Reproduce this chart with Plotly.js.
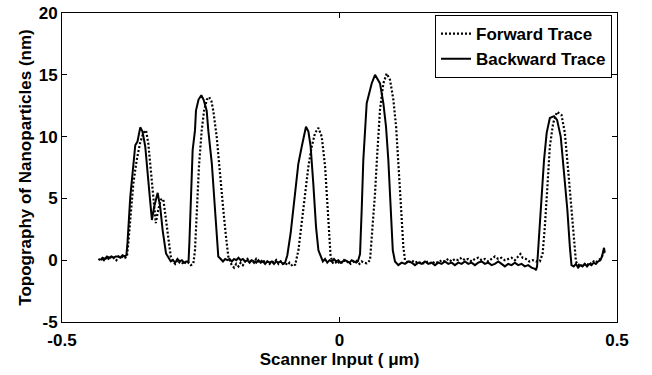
<!DOCTYPE html>
<html>
<head>
<meta charset="utf-8">
<script src="https://cdn.plot.ly/plotly-3.0.1.min.js"></script>
<style>
html,body{margin:0;padding:0;background:#fff;}
#chart{width:652px;height:375px;}
</style>
</head>
<body>
<div id="chart"></div>
<script>
// Forward trace (dotted)
const forwardX = [
-0.434,-0.430,-0.426,-0.422,-0.418,-0.414,-0.410,-0.406,-0.402,-0.398,-0.394,-0.390,-0.386,-0.383,
-0.3805,-0.376,-0.3715,-0.3654,-0.3595,-0.3535,-0.3486,-0.3445,-0.340,-0.3355,-0.331,-0.3265,-0.3216,-0.3175,-0.3126,-0.3085,-0.304,-0.2995,
-0.296,-0.292,-0.288,-0.284,-0.280,-0.276,-0.272,-0.268,-0.2634,
-0.2604,-0.2573,-0.2532,-0.2483,-0.244,-0.239,-0.235,-0.231,-0.2274,-0.2213,-0.2153,-0.2094,-0.2045,-0.2004,-0.1942,
-0.190,-0.186,-0.182,-0.178,-0.174,-0.170,-0.166,-0.162,-0.158,-0.154,-0.150,-0.146,-0.142,-0.138,-0.134,-0.130,-0.126,-0.122,-0.118,-0.114,-0.110,-0.106,-0.102,-0.098,-0.094,-0.090,-0.086,-0.082,-0.080,
-0.074,-0.068,-0.062,-0.056,-0.050,-0.044,-0.038,-0.032,-0.026,-0.022,-0.0184,-0.016,
-0.012,-0.008,-0.004,0.000,0.004,0.008,0.012,0.016,0.020,0.024,0.028,0.032,0.036,0.040,0.044,0.049,0.055,
0.060,0.064,0.068,0.073,0.079,0.085,0.091,0.097,0.102,0.106,0.110,0.115,0.118,0.124,
0.130,0.136,0.142,0.148,0.154,0.160,0.166,0.172,0.178,0.184,0.190,0.196,0.202,0.208,0.214,0.220,0.226,0.232,0.238,0.244,0.250,0.256,0.262,0.268,0.274,0.280,0.286,0.292,0.298,0.304,0.310,0.316,0.322,0.326,0.330,0.336,0.342,0.348,0.354,0.361,
0.366,0.370,0.3745,0.379,0.385,0.392,0.400,0.406,0.412,0.418,0.4225,0.426,
0.430,0.434,0.438,0.442,0.446,0.450,0.454,0.458,0.462,0.466,0.470,0.474,0.477
];
const forwardY = [
0.0,0.2,-0.1,0.2,0.0,0.3,0.1,0.2,0.0,0.3,0.2,0.3,0.2,0.3,
1.4,4.1,6.2,8.1,9.45,10.3,10.5,9.45,7.3,4.6,3.0,4.1,4.9,4.95,3.25,1.4,0.3,-0.1,
-0.3,0.0,-0.2,-0.3,-0.1,-0.3,-0.2,-0.4,-0.3,
0.8,4.1,7.6,10.5,12.1,13.0,13.2,12.9,12.1,10.0,6.75,4.1,1.9,0.3,-0.4,
-0.6,-0.3,-0.5,-0.2,-0.4,-0.1,0.1,-0.1,0.0,-0.2,0.1,-0.1,0.0,-0.2,0.0,-0.1,-0.3,-0.1,-0.2,0.0,-0.3,-0.1,-0.3,-0.2,-0.4,-0.2,-0.4,-0.3,-0.4,
0.8,3.0,5.4,7.6,9.2,10.3,10.7,10.0,7.6,4.9,2.2,0.3,
-0.2,-0.1,-0.3,-0.1,-0.2,0.0,-0.2,-0.1,-0.3,-0.2,0.0,-0.1,-0.3,-0.1,-0.2,-0.25,0.0,
2.7,5.4,8.6,12.2,14.3,15.1,14.6,13.0,10.8,8.1,4.9,1.1,0.0,-0.25,
0.0,-0.2,-0.1,-0.3,-0.2,-0.1,-0.3,-0.1,-0.2,0.0,-0.1,0.1,-0.1,0.1,0.0,0.2,0.0,0.1,-0.1,0.1,0.2,0.0,0.1,-0.1,0.1,0.3,0.1,0.2,0.0,0.1,0.2,0.0,0.3,0.5,0.2,0.1,-0.1,0.0,-0.1,-0.1,
0.55,2.7,5.9,9.2,11.1,12.0,11.75,10.3,7.3,4.1,1.1,-0.1,
-0.4,-0.3,-0.5,-0.3,-0.4,-0.2,-0.3,-0.1,-0.2,0.0,0.1,0.4,0.8
];

// Backward trace (solid)
const backwardX = [
-0.431,-0.427,-0.423,-0.419,-0.415,-0.411,-0.407,-0.403,-0.399,-0.395,-0.391,-0.387,-0.384,
-0.382,-0.377,-0.373,-0.368,-0.364,-0.359,-0.355,-0.350,-0.344,-0.338,-0.334,-0.3276,-0.323,-0.3186,-0.3126,-0.308,
-0.304,-0.300,-0.296,-0.292,-0.288,-0.284,-0.280,-0.276,-0.272,
-0.2705,-0.268,-0.2646,-0.2604,-0.2586,-0.254,-0.249,-0.245,-0.2393,-0.2364,-0.230,-0.2243,-0.2184,
-0.214,-0.210,-0.206,-0.202,-0.198,-0.194,-0.190,-0.186,-0.182,-0.178,-0.174,-0.170,-0.166,-0.162,-0.158,-0.154,-0.150,-0.146,-0.142,-0.138,-0.134,-0.130,-0.126,-0.122,-0.118,-0.114,-0.110,-0.106,-0.102,-0.098,
-0.094,-0.088,-0.0832,-0.0784,-0.0742,-0.068,-0.064,-0.0604,-0.056,-0.052,-0.0472,-0.0423,-0.038,-0.034,
-0.030,-0.026,-0.022,-0.018,-0.014,-0.010,-0.006,-0.002,0.002,0.006,0.010,0.014,0.018,0.022,0.026,0.030,0.033,
0.037,0.040,0.0429,0.049,0.058,0.064,0.068,0.073,0.079,0.0838,0.088,0.092,0.096,0.100,0.106,
0.112,0.118,0.124,0.130,0.136,0.142,0.148,0.154,0.160,0.166,0.172,0.178,0.184,0.190,0.196,0.202,0.208,0.214,0.220,0.226,0.232,0.238,0.244,0.250,0.256,0.262,0.268,0.274,0.280,0.286,0.292,0.298,0.304,0.310,0.316,0.322,0.328,0.334,0.340,0.346,0.352,0.354,
0.356,0.360,0.364,0.3685,0.3733,0.379,0.3865,0.392,0.3986,0.4045,0.4105,0.415,0.418,
0.422,0.426,0.430,0.434,0.438,0.442,0.446,0.450,0.454,0.458,0.462,0.466,0.470,0.473,0.4766,0.478
];
const backwardY = [
0.0,0.2,0.1,0.3,0.2,0.3,0.2,0.3,0.3,0.2,0.4,0.3,0.4,
1.4,5.1,6.8,9.3,9.6,10.75,10.4,9.2,6.2,3.25,4.3,5.45,4.3,2.4,0.55,0.15,
-0.1,0.0,-0.2,0.1,-0.1,0.0,-0.2,-0.1,-0.1,
1.4,5.1,8.9,10.5,12.1,13.0,13.35,13.0,12.1,10.5,7.8,4.1,0.3,
0.1,-0.1,0.1,0.0,0.1,-0.1,0.1,0.0,0.2,0.0,0.1,-0.1,0.0,-0.2,0.0,-0.1,-0.2,0.0,-0.2,-0.1,-0.3,-0.1,-0.2,-0.1,-0.3,-0.1,-0.2,-0.1,-0.3,-0.2,
0.4,2.2,4.3,6.5,7.8,9.2,10.0,10.8,10.4,9.2,6.2,2.7,0.8,0.35,
-0.1,0.1,-0.2,0.0,-0.1,0.1,-0.1,0.0,-0.2,-0.1,0.0,-0.1,-0.2,0.0,-0.1,-0.2,-0.1,
0.5,4.1,8.1,12.7,14.3,15.0,14.7,14.3,12.7,10.8,8.1,4.1,0.8,-0.1,-0.4,
-0.2,-0.3,-0.1,-0.2,-0.4,-0.2,-0.3,-0.1,-0.3,-0.2,-0.4,-0.2,-0.3,-0.1,-0.3,-0.2,-0.4,-0.2,-0.3,-0.1,-0.3,-0.2,-0.4,-0.2,-0.1,-0.3,-0.2,-0.4,-0.3,-0.1,-0.3,-0.5,-0.3,-0.4,-0.2,-0.4,-0.3,-0.5,-0.4,-0.6,-0.7,-0.8,
-0.5,2.2,5.4,8.1,10.3,11.5,11.65,11.35,10.0,7.3,4.1,1.1,-0.4,
-0.5,-0.3,-0.6,-0.4,-0.5,-0.3,-0.5,-0.3,-0.4,-0.2,-0.3,-0.1,0.0,0.3,1.0,0.6
];

const xTicks = [-0.5, 0, 0.5];
const xTickText = ['-0.5', '0', '0.5'];
const yTicks = [-5, 0, 5, 10, 15, 20];
const yTickText = ['-5', '0', '5', '10', '15', '20'];

const FONT = 'Liberation Sans, Arial, sans-serif';
const FS = 17;

const traces = [
  {x: forwardX, y: forwardY, type: 'scatter', mode: 'lines', name: 'Forward Trace',
   line: {color: '#000', width: 2.2, dash: '2px,2px'}},
  {x: backwardX, y: backwardY, type: 'scatter', mode: 'lines', name: 'Backward Trace',
   line: {color: '#000', width: 2}}
];

const layout = {
  width: 652, height: 375,
  margin: {l: 62, r: 35, t: 13, b: 53},
  paper_bgcolor: '#fff', plot_bgcolor: '#fff',
  font: {family: FONT, size: FS, color: '#000', weight: 'bold'},
  showlegend: true,
  legend: {
    x: 0.991, y: 0.993, xanchor: 'right', yanchor: 'top',
    bgcolor: '#fff', bordercolor: '#000', borderwidth: 1,
    font: {family: FONT, size: FS, color: '#000', weight: 'bold'},
    itemwidth: 30, tracegroupgap: 0
  },
  xaxis: {
    range: [-0.5, 0.5], tickmode: 'array', tickvals: xTicks, ticktext: xTickText,
    ticks: 'inside', ticklen: 5, tickwidth: 1, tickcolor: '#000',
    showline: true, linecolor: '#000', linewidth: 1, mirror: 'ticks',
    showgrid: false, zeroline: false, ticklabelstandoff: 3,
    tickfont: {family: FONT, size: FS, color: '#000', weight: 'bold'},
    title: {text: 'Scanner Input ( μm)', font: {family: FONT, size: FS, color: '#000', weight: 'bold'}, standoff: 1}
  },
  yaxis: {
    range: [-5, 20], tickmode: 'array', tickvals: yTicks, ticktext: yTickText,
    ticks: 'inside', ticklen: 5, tickwidth: 1, tickcolor: '#000',
    showline: true, linecolor: '#000', linewidth: 1, mirror: 'ticks',
    showgrid: false, zeroline: false,
    tickfont: {family: FONT, size: FS, color: '#000', weight: 'bold'},
    title: {text: 'Topography of Nanoparticles (nm)', font: {family: FONT, size: FS, color: '#000', weight: 'bold'}, standoff: 2}
  }
};

Plotly.newPlot('chart', traces, layout, {staticPlot: true, displayModeBar: false});
</script>
</body>
</html>
